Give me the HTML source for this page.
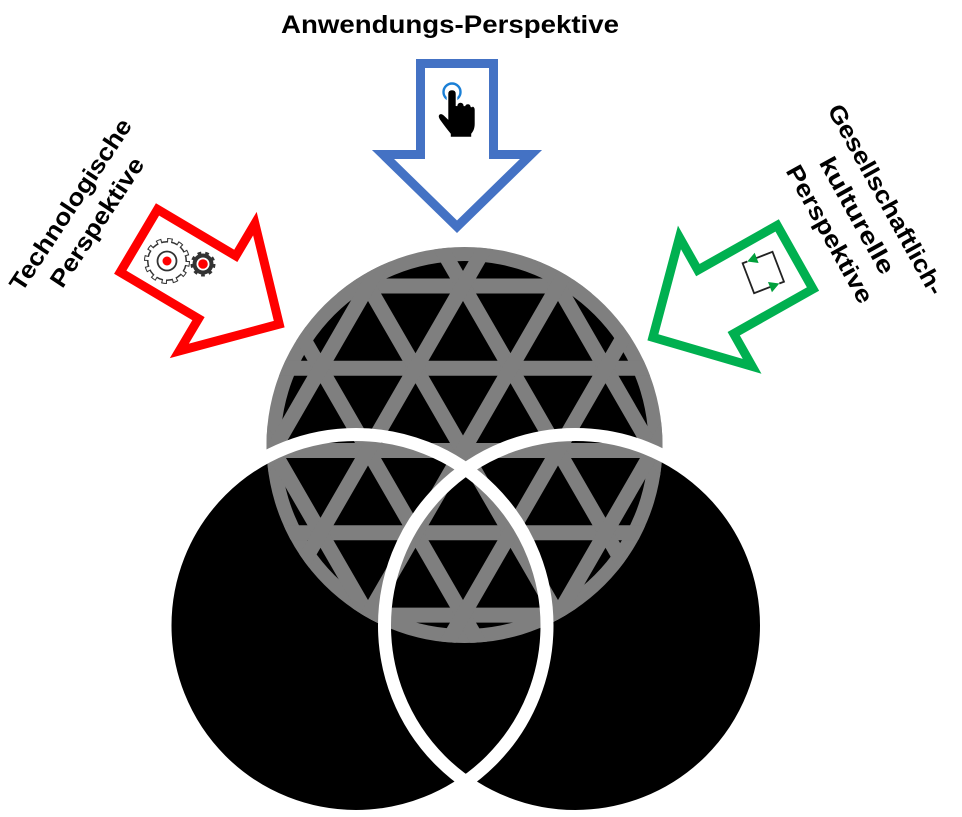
<!DOCTYPE html>
<html>
<head>
<meta charset="utf-8">
<style>
  html, body { margin: 0; padding: 0; background: #fff; }
  body { width: 962px; height: 817px; overflow: hidden; }
  svg { display: block; }
  text { font-family: "Liberation Sans", "DejaVu Sans", sans-serif; font-weight: bold; fill: #000; }
</style>
</head>
<body>
<svg width="962" height="817" viewBox="0 0 962 817" xmlns="http://www.w3.org/2000/svg">
  <defs>
    <clipPath id="cc"><circle cx="464.5" cy="445" r="198"/></clipPath>
  </defs>

  <!-- bottom black circles -->
  <circle cx="356" cy="625.5" r="191" fill="#000"/>
  <circle cx="575.5" cy="625.5" r="191" fill="#000"/>

  <!-- top gray lattice circle -->
  <circle cx="464.5" cy="445" r="198" fill="#7f7f7f"/>
  <circle cx="464.5" cy="445" r="184" fill="#000"/>
  <g clip-path="url(#cc)" stroke="#7f7f7f" stroke-width="15" fill="none">
    <line x1="240" y1="286" x2="690" y2="286"/>
    <line x1="240" y1="368.3" x2="690" y2="368.3"/>
    <line x1="240" y1="450.5" x2="690" y2="450.5"/>
    <line x1="240" y1="532.8" x2="690" y2="532.8"/>
    <line x1="240" y1="615.1" x2="690" y2="615.1"/>
    <!-- family A -->
    <line x1="50.7" y1="230" x2="298.95" y2="660"/>
    <line x1="145.7" y1="230" x2="393.95" y2="660"/>
    <line x1="240.7" y1="230" x2="488.95" y2="660"/>
    <line x1="335.7" y1="230" x2="583.95" y2="660"/>
    <line x1="430.7" y1="230" x2="678.95" y2="660"/>
    <line x1="525.7" y1="230" x2="773.95" y2="660"/>
    <line x1="620.7" y1="230" x2="868.95" y2="660"/>
    <!-- family B -->
    <line x1="305.3" y1="230" x2="57.05" y2="660"/>
    <line x1="400.3" y1="230" x2="152.05" y2="660"/>
    <line x1="495.3" y1="230" x2="247.05" y2="660"/>
    <line x1="590.3" y1="230" x2="342.05" y2="660"/>
    <line x1="685.3" y1="230" x2="437.05" y2="660"/>
    <line x1="780.3" y1="230" x2="532.05" y2="660"/>
    <line x1="875.3" y1="230" x2="627.05" y2="660"/>
  </g>

  <!-- white outlines of bottom circles -->
  <circle cx="356" cy="625.5" r="191" fill="none" stroke="#fff" stroke-width="13"/>
  <circle cx="575.5" cy="625.5" r="191" fill="none" stroke="#fff" stroke-width="13"/>

  <!-- arrows -->
  <g fill="#fff" stroke-width="9" stroke-linejoin="miter" stroke-miterlimit="6">
    <path transform="translate(457,59) rotate(90)" stroke="#4472C4"
          d="M4.5,-36.5 L95.5,-36.5 L95.5,-74 L167.7,0 L95.5,74 L95.5,36.5 L4.5,36.5 Z"/>
    <path transform="translate(135,238.5) rotate(30.7)" stroke="#FF0000"
          d="M4.5,-36.5 L95.5,-36.5 L95.5,-74 L167.7,0 L95.5,74 L95.5,36.5 L4.5,36.5 Z"/>
    <path transform="translate(799,255) rotate(150.6)" stroke="#00B050"
          d="M4.5,-36.5 L95.5,-36.5 L95.5,-74 L167.7,0 L95.5,74 L95.5,36.5 L4.5,36.5 Z"/>
  </g>

  <!-- hand icon -->
  <circle cx="452" cy="92" r="8.5" fill="none" stroke="#1a7fd6" stroke-width="2.4"/>
  <path fill="#000" stroke="#fff" stroke-width="1.6"
        d="M447.5,94 Q447.5,89.5 452,89.5 Q456.5,89.5 456.5,94 L456.5,106 Q457,102 460.5,102 Q464,102 464.5,106 Q465,103.5 468,103.5 Q471,103.5 471.5,107 Q472,105.5 473.5,106 Q475.5,107 475.5,110 L475.5,124 Q475.5,130 472,134 L472,137.5 L450,137.5 L450,134 Q445,128 440,121 Q436.5,116 439,114 Q441.5,112 445,115.5 L447.5,118 Z"/>

  <!-- gears -->
  <g>
    <circle cx="167" cy="261" r="20" fill="#333" stroke="#333" stroke-width="6" stroke-dasharray="5.2 5.27"/>
    <circle cx="167" cy="261" r="20" fill="none" stroke="#fff" stroke-width="4" stroke-dasharray="3.2 7.27" stroke-dashoffset="-1"/>
    <circle cx="167" cy="261" r="18.5" fill="#fff"/>
    <circle cx="167" cy="261" r="9.5" fill="none" stroke="#333" stroke-width="1.8"/>
    <circle cx="167" cy="261" r="4.5" fill="#f00"/>

    <circle cx="203" cy="264" r="10.5" fill="#333" stroke="#333" stroke-width="4" stroke-dasharray="3.5 3.83"/>
    <circle cx="203" cy="264" r="6.5" fill="#fff"/>
    <circle cx="203" cy="264" r="4.8" fill="#f00"/>
  </g>

  <!-- cycle icon in green arrow -->
  <g transform="translate(763.3,272.5) rotate(-21)">
    <path d="M-11,-16 L-16,-16 L-16,16 L2,16 M11,16 L16,16 L16,-16 L-2,-16" fill="none" stroke="#222" stroke-width="1.8"/>
    <polygon points="11,16 1,10.5 1,21.5" fill="#00A03C"/>
    <polygon points="-11,-16 -1,-21.5 -1,-10.5" fill="#00A03C"/>
  </g>

  <!-- labels -->
  <text x="450" y="33" font-size="25" text-anchor="middle" textLength="338" lengthAdjust="spacingAndGlyphs">Anwendungs-Perspektive</text>

  <g transform="translate(77.4,209.2) rotate(-56.5)">
    <text x="0" y="0" font-size="24" text-anchor="middle" textLength="201" lengthAdjust="spacingAndGlyphs">Technologische</text>
    <text x="0" y="31.7" font-size="24" text-anchor="middle" textLength="150" lengthAdjust="spacingAndGlyphs">Perspektive</text>
  </g>

  <g transform="translate(850,219.4) rotate(61)">
    <text x="0" y="-33" font-size="24" text-anchor="middle" textLength="214" lengthAdjust="spacingAndGlyphs">Gesellschaftlich-</text>
    <text x="0" y="0" font-size="24" text-anchor="middle" textLength="130" lengthAdjust="spacingAndGlyphs">kulturelle</text>
    <text x="3" y="33" font-size="24" text-anchor="middle" textLength="154" lengthAdjust="spacingAndGlyphs">Perspektive</text>
  </g>
</svg>
</body>
</html>
